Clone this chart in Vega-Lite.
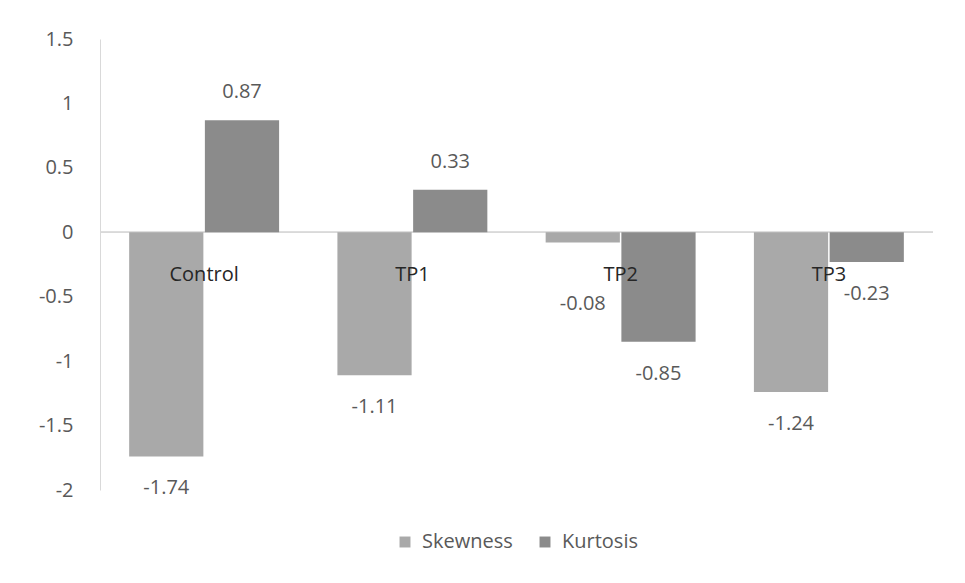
{
  "$schema": "https://vega.github.io/schema/vega-lite/v6.json",
  "width": 833,
  "height": 451,
  "autosize": {"type": "none"},
  "padding": {"left": 100, "top": 39, "right": 32, "bottom": 93},
  "background": "white",
  "config": {"font": "Open Sans", "view": {"stroke": null},
             "legend": {"layout": {"bottom": {"anchor": "middle"}}}},
  "data": {"values": [
    {"category": "Control", "series": "Skewness", "value": -1.74},
    {"category": "Control", "series": "Kurtosis", "value": 0.87},
    {"category": "TP1", "series": "Skewness", "value": -1.11},
    {"category": "TP1", "series": "Kurtosis", "value": 0.33},
    {"category": "TP2", "series": "Skewness", "value": -0.08},
    {"category": "TP2", "series": "Kurtosis", "value": -0.85},
    {"category": "TP3", "series": "Skewness", "value": -1.24},
    {"category": "TP3", "series": "Kurtosis", "value": -0.23}
  ]},
  "encoding": {
    "x": {"field": "category", "type": "nominal", "sort": ["Control", "TP1", "TP2", "TP3"],
          "scale": {"paddingInner": 0.28, "paddingOuter": 0.14}, "axis": null},
    "y": {"type": "quantitative",
          "scale": {"domain": [-2, 1.5], "nice": false, "zero": false},
          "axis": {"title": null, "values": [-2, -1.5, -1, -0.5, 0, 0.5, 1, 1.5],
                   "labelExpr": "'' + datum.value", "grid": false, "ticks": false,
                   "domainColor": "#d9d9d9", "labelColor": "#595959", "labelFontSize": 20,
                   "labelPadding": 27}}
  },
  "layer": [
    {"mark": {"type": "rule", "color": "#d9d9d9", "strokeWidth": 1},
     "encoding": {"y": {"datum": 0, "type": "quantitative"}, "x": null}},
    {"mark": {"type": "bar"},
     "encoding": {
       "y": {"field": "value"},
       "y2": {"datum": 0},
       "xOffset": {"field": "series", "sort": ["Skewness", "Kurtosis"], "scale": {"paddingInner": 0.02}},
       "color": {"field": "series", "type": "nominal",
                 "scale": {"domain": ["Skewness", "Kurtosis"], "range": ["#a9a9a9", "#8b8b8b"]},
                 "legend": {"title": null, "orient": "bottom", "direction": "horizontal", "offset": 42,
                            "symbolType": "square", "symbolSize": 120, "symbolStrokeWidth": 0,
                            "labelFontSize": 20, "labelColor": "#595959", "columnPadding": 22,
                            "labelOffset": 7}}
     }},
    {"transform": [{"filter": "datum.value > 0"}],
     "mark": {"type": "text", "dy": -28, "baseline": "middle", "fontSize": 20, "color": "#595959"},
     "encoding": {"y": {"field": "value"}, "xOffset": {"field": "series", "sort": ["Skewness", "Kurtosis"]},
                  "text": {"field": "value"}}},
    {"transform": [{"filter": "datum.value <= -0.1"}],
     "mark": {"type": "text", "dy": 32, "baseline": "middle", "fontSize": 20, "color": "#595959"},
     "encoding": {"y": {"field": "value"}, "xOffset": {"field": "series", "sort": ["Skewness", "Kurtosis"]},
                  "text": {"field": "value"}}},
    {"transform": [{"filter": "datum.value < 0 && datum.value > -0.1"}],
     "mark": {"type": "text", "dy": 61, "baseline": "middle", "fontSize": 20, "color": "#595959"},
     "encoding": {"y": {"field": "value"}, "xOffset": {"field": "series", "sort": ["Skewness", "Kurtosis"]},
                  "text": {"field": "value"}}},
    {"transform": [{"filter": "datum.series == 'Skewness'"}],
     "mark": {"type": "text", "dy": 43, "baseline": "middle", "fontSize": 20, "color": "#262626"},
     "encoding": {"y": {"datum": 0, "type": "quantitative"}, "text": {"field": "category"}}}
  ]
}
